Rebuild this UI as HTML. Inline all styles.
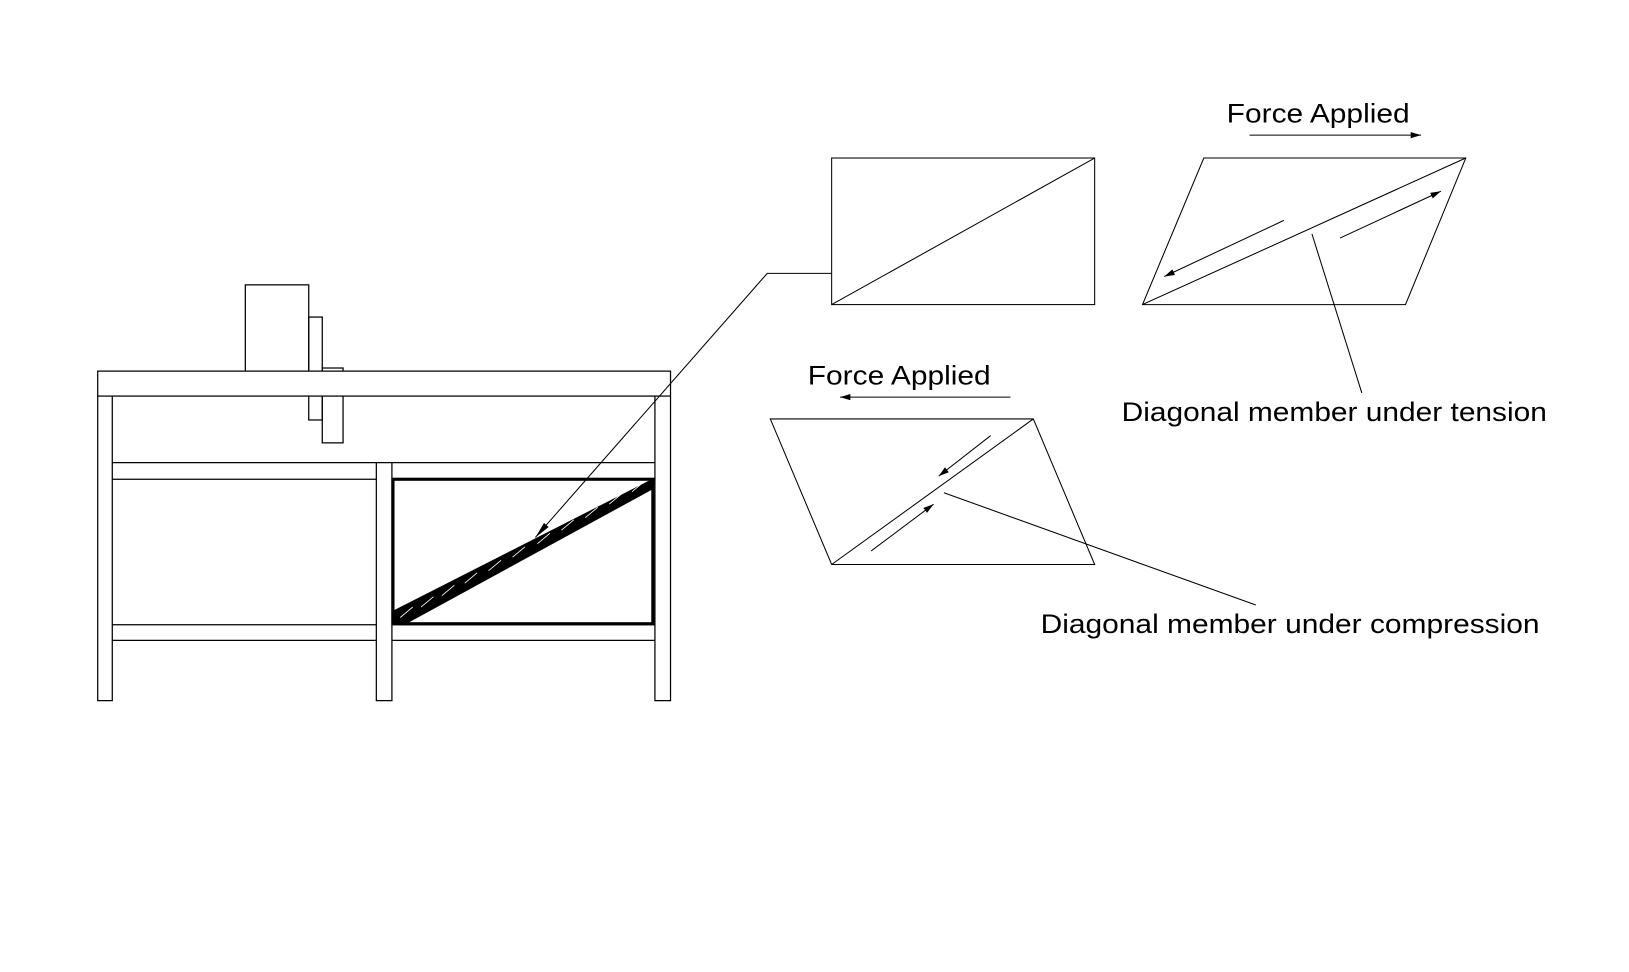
<!DOCTYPE html>
<html><head><style>html,body{margin:0;padding:0;background:#fff}svg{display:block}</style></head>
<body>
<svg width="1629" height="972" viewBox="0 0 1567 935" xmlns="http://www.w3.org/2000/svg">
<defs>
<marker id="ah" viewBox="0 0 10 6" refX="10" refY="3" markerWidth="10" markerHeight="6" markerUnits="userSpaceOnUse" orient="auto"><path d="M0,0 L10,3 L0,6z" fill="#000"/></marker>
<marker id="ah2" viewBox="0 0 16 6" refX="16" refY="3" markerWidth="16" markerHeight="6" markerUnits="userSpaceOnUse" orient="auto"><path d="M0,0 L16,3 L0,6z" fill="#000"/></marker>
</defs>
<g fill="none" stroke="#000" stroke-width="1.2">
<rect x="236" y="274" width="61" height="83"/>
<rect x="297" y="305" width="13" height="99"/>
<rect x="310" y="354" width="20" height="72"/>
<rect x="94" y="357" width="551" height="24" fill="#fff"/>
<path d="M94,381 V674 H108 V381 M630,381 V674 H645 V381 M362,445 V674 H377 V445"/>
<path d="M108,445 H630 M108,461 H362 M377,461 H630 M108,601 H362 M377,601 H630 M108,616 H362 M377,616 H630"/>
</g>
<rect x="378" y="461" width="250" height="139" fill="none" stroke="#000" stroke-width="3"/>
<path d="M378,600 L378,588 L628,461 L628,470 L390,600 Z" fill="#000" stroke="#000" stroke-width="1"/>
<path d="M385,594 l12,-10 M405,584 l12,-10 M425,573 l12,-10 M447,561 l12,-10 M470,549 l12,-10 M493,536 l12,-10 M517,523 l12,-10 M540,510 l12,-10 M563,498 l12,-10 M586,485 l12,-10 M608,473 l12,-10" stroke="#fff" stroke-width="0.8"/>
<g fill="none" stroke="#000" stroke-width="1">
<path d="M800,263 H738 L515,517" marker-end="url(#ah2)"/>
<rect x="800" y="152" width="253" height="141"/>
<path d="M800,293 L1053,152"/>
<path d="M1158,152 H1410 L1352,293 H1099 Z M1099,293 L1410,152"/>
<path d="M1235,212 L1120,266" marker-end="url(#ah)"/>
<path d="M1289,229 L1386,184" marker-end="url(#ah)"/>
<path d="M1262,225 L1310,378"/>
<path d="M1202,130 L1367,130" marker-end="url(#ah)"/>
<path d="M741,403 H994 L1053,543 H800 Z M800,543 L994,403"/>
<path d="M953,419 L903,458" marker-end="url(#ah)"/>
<path d="M838,530 L898,485" marker-end="url(#ah)"/>
<path d="M908,474 L1208,582"/>
<path d="M972,382 L808,382" marker-end="url(#ah)"/>
</g>
<g font-family="Liberation Sans, sans-serif" font-size="26" fill="#000">
<text x="1180" y="118" textLength="176" lengthAdjust="spacingAndGlyphs">Force Applied</text>
<text x="777" y="370" textLength="176" lengthAdjust="spacingAndGlyphs">Force Applied</text>
<text x="1079" y="405" textLength="409" lengthAdjust="spacingAndGlyphs">Diagonal member under tension</text>
<text x="1001" y="609" textLength="480" lengthAdjust="spacingAndGlyphs">Diagonal member under compression</text>
</g>
</svg>
</body></html>
